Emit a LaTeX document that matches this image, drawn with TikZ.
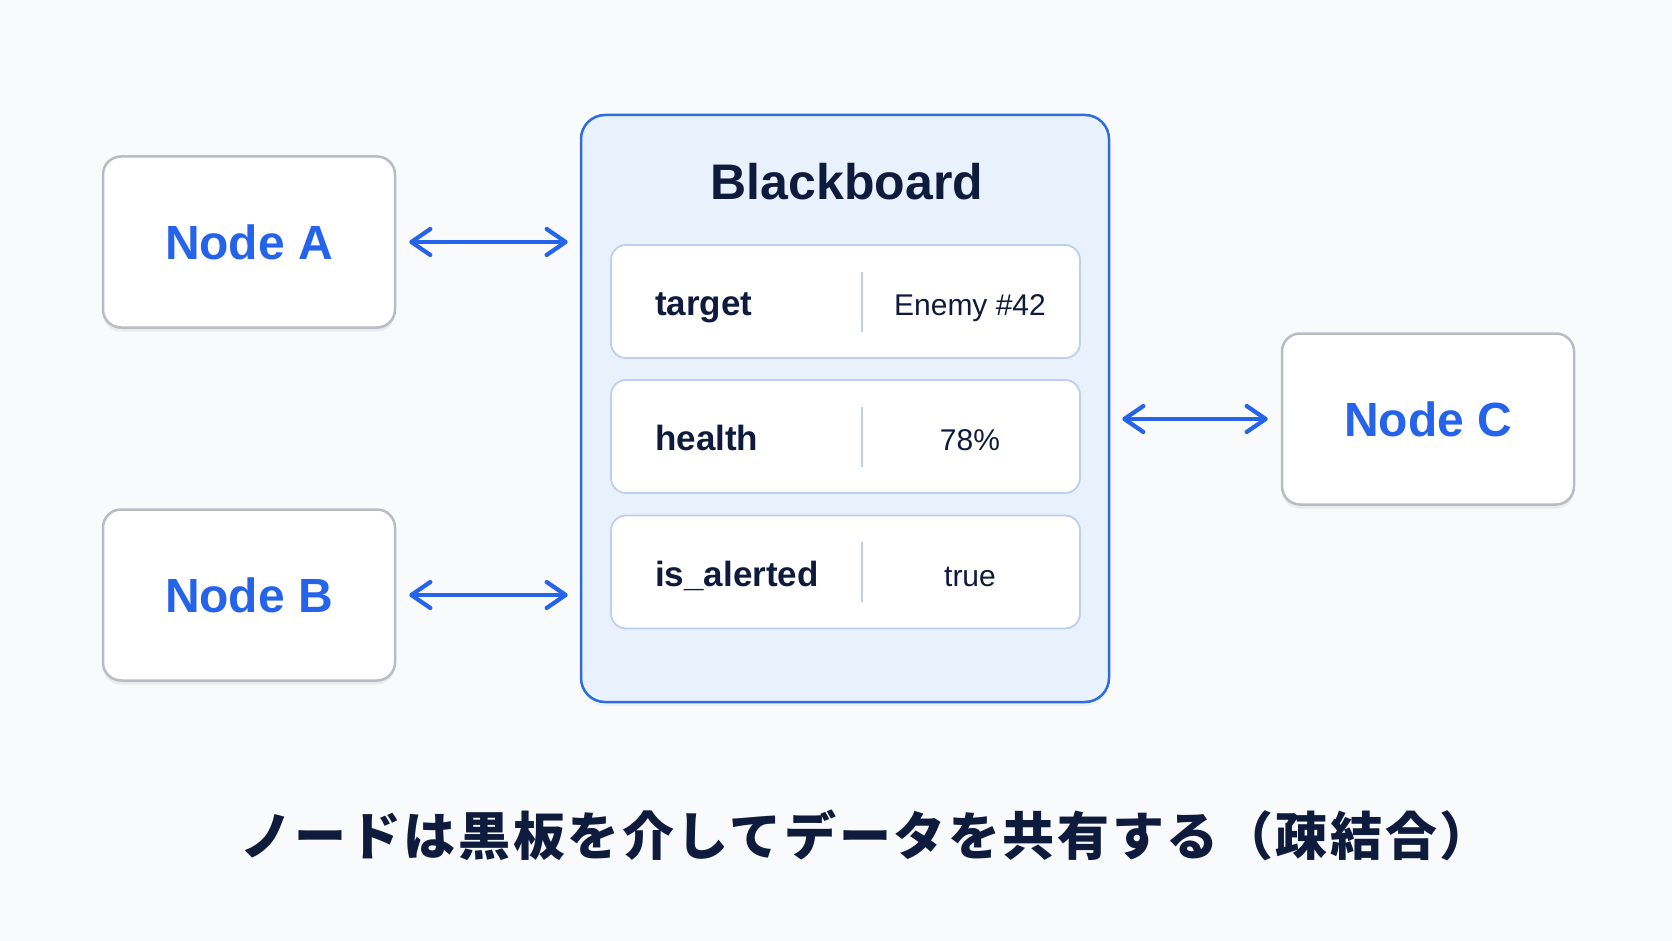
\documentclass[tikz,border=0pt]{standalone}
\usepackage{fontspec}
\setmainfont{Liberation Sans}
\newfontfamily\cjk{Noto Sans CJK JP}[LetterSpace=5]
\usetikzlibrary{arrows.meta,shadows}

\definecolor{bgcol}{HTML}{F9FAFB}
\definecolor{nodeblue}{HTML}{2563EB}
\definecolor{navy}{HTML}{0F1B3D}
\definecolor{boardfill}{HTML}{E8F1FC}
\definecolor{boardline}{HTML}{2F6CDF}
\definecolor{rowline}{HTML}{BCCFEE}
\definecolor{boxline}{HTML}{B9BCC4}

\begin{document}
\begin{tikzpicture}[x=1pt, y=-1pt,
  nodebox/.style={draw=boxline, line width=2.5pt, fill=white, rounded corners=18pt,
    minimum width=292pt, minimum height=171pt, text=nodeblue,
    font=\fontsize{48}{58}\selectfont\bfseries,
    drop shadow={opacity=0.12, shadow xshift=0pt, shadow yshift=-4pt}},
  board/.style={draw=boardline, line width=2.5pt, fill=boardfill, rounded corners=24pt,
    minimum width=528pt, minimum height=587pt,
    drop shadow={opacity=0.06, shadow xshift=0pt, shadow yshift=-4pt}},
  rowbox/.style={draw=rowline, line width=1.8pt, fill=white, rounded corners=15pt,
    minimum width=469pt, minimum height=113pt},
  divider/.style={draw=rowline, line width=1.8pt},
  keytext/.style={text=navy, inner sep=0pt, font=\fontsize{35}{42}\selectfont\bfseries},
  valtext/.style={text=navy, inner sep=0pt, font=\fontsize{30}{36}\selectfont},
  biarrow/.style={{Straight Barb[length=19pt,width=26pt,round]}-{Straight Barb[length=19pt,width=26pt,round]},
    line width=4.2pt, draw=nodeblue, line cap=round}]
% Background
\fill[bgcol] (0,0) rectangle (1672,941);
% The three nodes round the board
\node[nodebox] (nodeA) at (249,242) {Node A};
\node[nodebox] (nodeB) at (249,595) {Node B};
\node[nodebox] (nodeC) at (1428,419) {Node C};
% Blackboard with its title
\node[board] (board) at (845,408.5) {};
\node[text=navy, anchor=base, inner sep=0pt, font=\fontsize{50}{60}\selectfont\bfseries] (bbtitle) at (847,200) {Blackboard};
% Key / value rows
\foreach \key/\val/\ypos [count=\i] in {target/Enemy \#42/301.5, health/78\%/436.5, is\_alerted/true/572} {
  \node[rowbox] (row\i) at (845.5,\ypos) {};
  \draw[divider] (862,\ypos-30) -- (862,\ypos+30);
  \node[keytext, anchor=base west] (key\i) at (655,\ypos+14) {\key};
  \node[valtext, anchor=base] (val\i) at (970,\ypos+14) {\val};
}
% Two-way arrows between nodes and board
\draw[biarrow, shorten <=13pt, shorten >=12pt] (nodeA.east) -- (nodeA.east -| board.west);
\draw[biarrow, shorten <=13pt, shorten >=12pt] (nodeB.east) -- (nodeB.east -| board.west);
\draw[biarrow, shorten <=12pt, shorten >=13pt] (nodeC.west -| board.east) -- (nodeC.west);
% Caption
\node[text=navy, font=\cjk\bfseries\fontsize{52}{62}\selectfont] (caption) at (866,835) {ノードは黒板を介してデータを共有する（疎結合）};
\end{tikzpicture}
\end{document}
